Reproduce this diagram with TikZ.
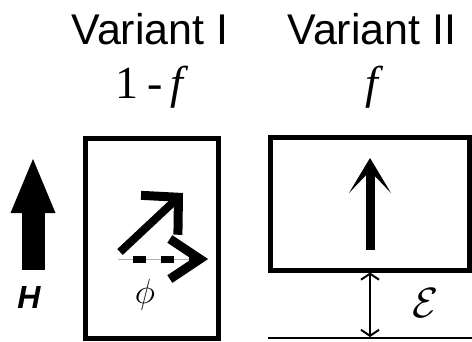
\documentclass[tikz,border=0pt]{standalone}
\usepackage{fontspec}
\setmainfont{Liberation Serif}
\setsansfont{Liberation Sans}
\usetikzlibrary{arrows.meta,positioning}

\begin{document}
\begin{tikzpicture}[x=1pt,y=1pt,
  title/.style={font=\sffamily\fontsize{43}{43}\selectfont,anchor=base,inner sep=0pt},
  share/.style={font=\rmfamily\fontsize{46}{46}\selectfont,anchor=base,inner sep=0pt},
  symb/.style={font=\Huge,inner sep=0pt},
  cell/.style={draw,line width=5pt,inner sep=0pt},
  field/.style={line width=23pt,-{Triangle[length=57pt,width=40pt]}},
  spin/.style={line width=9pt,-{Stealth[length=35pt,width=42pt,inset=22pt]}},
  tilt/.style={line width=8pt,-{Straight Barb[length=26pt,width=54pt,line width=9pt]}},
  proj/.style={line width=7pt,dash pattern=on 13pt off 15pt,dash phase=13pt,
               preaction={draw,line width=0.6pt,gray!60,solid},
               -{Straight Barb[length=30pt,width=40pt,line width=9pt]}},
  gap/.style={line width=1.2pt,{Straight Barb[length=6pt,width=18pt,line width=2pt]}-{Straight Barb[length=6pt,width=18pt,line width=2pt]}}
]
\useasboundingbox (0,0) rectangle (472,341);

%% Titles
\node[title] (t1) at (150,296) {Variant I};
\node[title] (t2) at (372,296) {Variant II};
\node[share] (p1) at (152,243) {1\hspace{9pt}-\hspace{7pt}\textit{f}};
\node[share] (p2) at (375,243) {\textit{f}};

%% Cells
\node[cell,minimum width=133pt,minimum height=200pt] (var1) at (152,103) {};
\node[cell,minimum width=199pt,minimum height=133pt] (var2) at (369.5,137.5) {};

%% Field
\coordinate (hbot) at (33,71);
\coordinate (htop) at (33,185);
\draw[field] (hbot) -- (htop);
\node[font=\sffamily\bfseries\itshape\fontsize{32}{32}\selectfont] (hlab) at (29,44) {H};

%% Variant I
\coordinate (tbot) at (120,89);
\coordinate (ttop) at (183,148);
\draw[tilt] (tbot) -- (ttop);
\coordinate (pbot) at (118,82);
\coordinate (ptop) at (208,82);
\draw[proj] (pbot) -- (ptop);
\node[symb,scale=1.4] (phi) at (145,46) {$\phi$};

%% Variant II
\coordinate (sbot) at (370,91);
\coordinate (stop) at (370,183);
\draw[spin] (sbot) -- (stop);
\coordinate (bw) at (268,3);
\coordinate (be) at (472,3);
\draw[line width=2pt] (bw) -- (be);
\coordinate (base) at (370,4);
\draw[gap] (var2.south -| base) -- (base);
\node[symb,scale=1.7] (eps) at (426,38) {$\mathcal{E}$};

\end{tikzpicture}
\end{document}
